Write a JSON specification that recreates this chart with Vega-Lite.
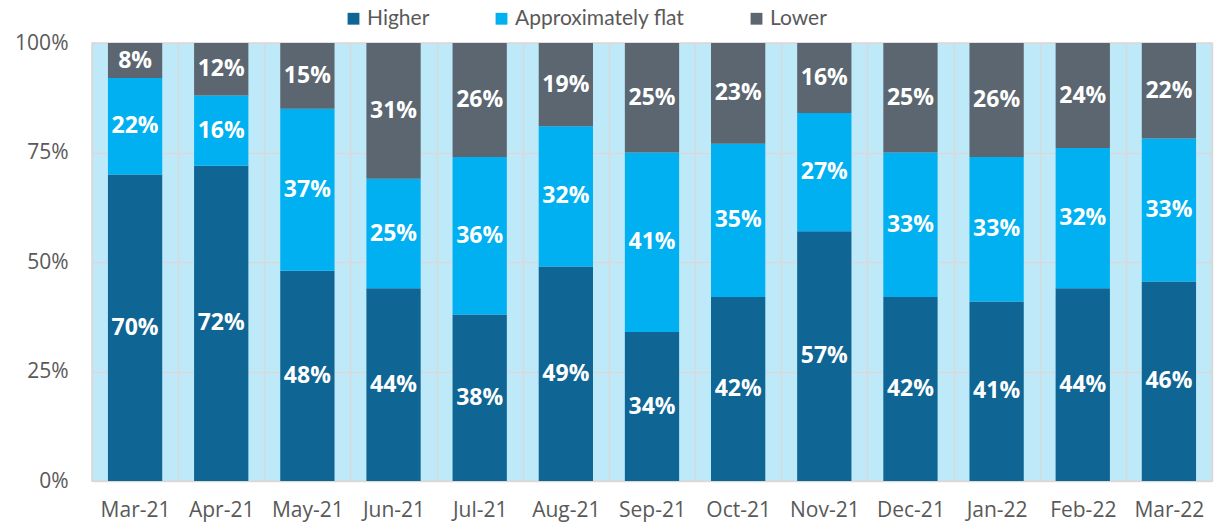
{
  "$schema": "https://vega.github.io/schema/vega-lite/v6.json",
  "width": 1120,
  "height": 438,
  "autosize": {"type": "none"},
  "padding": {"left": 92, "top": 43, "right": 3, "bottom": 50},
  "background": "white",
  "config": {
    "view": {"fill": "#bde9f9", "stroke": "#d9d9d9", "strokeWidth": 1.5},
    "font": "Open Sans",
    "axis": {"labelFont": "Open Sans", "labelColor": "#595959", "labelFontSize": 21}
  },
  "data": {
    "values": [
      {"month": "Mar-21", "group": "Higher", "k": 1, "share": 0.70},
      {"month": "Mar-21", "group": "Approximately flat", "k": 2, "share": 0.22},
      {"month": "Mar-21", "group": "Lower", "k": 3, "share": 0.08},
      {"month": "Apr-21", "group": "Higher", "k": 1, "share": 0.72},
      {"month": "Apr-21", "group": "Approximately flat", "k": 2, "share": 0.16},
      {"month": "Apr-21", "group": "Lower", "k": 3, "share": 0.12},
      {"month": "May-21", "group": "Higher", "k": 1, "share": 0.48},
      {"month": "May-21", "group": "Approximately flat", "k": 2, "share": 0.37},
      {"month": "May-21", "group": "Lower", "k": 3, "share": 0.15},
      {"month": "Jun-21", "group": "Higher", "k": 1, "share": 0.44},
      {"month": "Jun-21", "group": "Approximately flat", "k": 2, "share": 0.25},
      {"month": "Jun-21", "group": "Lower", "k": 3, "share": 0.31},
      {"month": "Jul-21", "group": "Higher", "k": 1, "share": 0.38},
      {"month": "Jul-21", "group": "Approximately flat", "k": 2, "share": 0.36},
      {"month": "Jul-21", "group": "Lower", "k": 3, "share": 0.26},
      {"month": "Aug-21", "group": "Higher", "k": 1, "share": 0.49},
      {"month": "Aug-21", "group": "Approximately flat", "k": 2, "share": 0.32},
      {"month": "Aug-21", "group": "Lower", "k": 3, "share": 0.19},
      {"month": "Sep-21", "group": "Higher", "k": 1, "share": 0.34},
      {"month": "Sep-21", "group": "Approximately flat", "k": 2, "share": 0.41},
      {"month": "Sep-21", "group": "Lower", "k": 3, "share": 0.25},
      {"month": "Oct-21", "group": "Higher", "k": 1, "share": 0.42},
      {"month": "Oct-21", "group": "Approximately flat", "k": 2, "share": 0.35},
      {"month": "Oct-21", "group": "Lower", "k": 3, "share": 0.23},
      {"month": "Nov-21", "group": "Higher", "k": 1, "share": 0.57},
      {"month": "Nov-21", "group": "Approximately flat", "k": 2, "share": 0.27},
      {"month": "Nov-21", "group": "Lower", "k": 3, "share": 0.16},
      {"month": "Dec-21", "group": "Higher", "k": 1, "share": 0.42},
      {"month": "Dec-21", "group": "Approximately flat", "k": 2, "share": 0.33},
      {"month": "Dec-21", "group": "Lower", "k": 3, "share": 0.25},
      {"month": "Jan-22", "group": "Higher", "k": 1, "share": 0.41},
      {"month": "Jan-22", "group": "Approximately flat", "k": 2, "share": 0.33},
      {"month": "Jan-22", "group": "Lower", "k": 3, "share": 0.26},
      {"month": "Feb-22", "group": "Higher", "k": 1, "share": 0.44},
      {"month": "Feb-22", "group": "Approximately flat", "k": 2, "share": 0.32},
      {"month": "Feb-22", "group": "Lower", "k": 3, "share": 0.24},
      {"month": "Mar-22", "group": "Higher", "k": 1, "share": 0.46},
      {"month": "Mar-22", "group": "Approximately flat", "k": 2, "share": 0.33},
      {"month": "Mar-22", "group": "Lower", "k": 3, "share": 0.22}
    ]
  },
  "encoding": {
    "x": {
      "field": "month",
      "type": "nominal",
      "sort": null,
      "scale": {"paddingInner": 0, "paddingOuter": 0},
      "axis": {
        "title": null,
        "labelAngle": 0,
        "ticks": false,
        "domain": false,
        "labelPadding": 18,
        "grid": true,
        "tickBand": "extent",
        "gridColor": "#d9d9d9",
        "gridWidth": 1.5
      }
    },
    "y": {
      "field": "share",
      "type": "quantitative",
      "stack": "normalize",
      "scale": {"domain": [0, 1]},
      "axis": {
        "title": null,
        "values": [0, 0.25, 0.5, 0.75, 1],
        "format": ".0%",
        "ticks": false,
        "domain": false,
        "labelPadding": 24,
        "gridColor": "#d9d9d9",
        "gridWidth": 1.5
      }
    },
    "order": {"field": "k", "type": "quantitative"}
  },
  "layer": [
    {
      "mark": {"type": "bar", "width": {"band": 0.63}},
      "encoding": {
        "color": {
          "field": "group",
          "type": "nominal",
          "scale": {
            "domain": ["Higher", "Approximately flat", "Lower"],
            "range": ["#0f6593", "#00b0f0", "#5b6670"]
          },
          "legend": {
            "title": null,
            "orient": "none",
            "direction": "horizontal",
            "legendX": 251,
            "legendY": -35,
            "symbolType": "square",
            "symbolSize": 140,
            "symbolStrokeWidth": 0,
            "labelFontSize": 21,
            "labelColor": "#595959",
            "labelFont": "Lato",
            "labelLimit": 0,
            "labelOffset": 3,
            "columnPadding": 61
          }
        }
      }
    },
    {
      "mark": {"type": "text", "color": "white", "fontWeight": "bold", "fontSize": 23, "font": "Open Sans"},
      "encoding": {
        "y": {"field": "share", "type": "quantitative", "stack": "normalize", "bandPosition": 0.5},
        "text": {"field": "share", "type": "quantitative", "format": ".0%"}
      }
    }
  ]
}
